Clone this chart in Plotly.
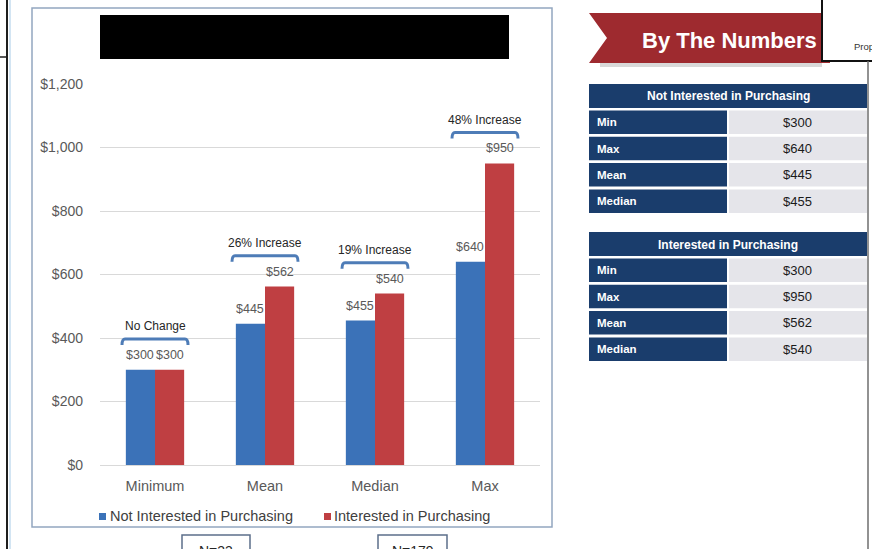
import plotly.graph_objects as go

# ---- data -------------------------------------------------------------
categories = ["Minimum", "Mean", "Median", "Max"]
not_interested = [300, 445, 455, 640]
interested = [300, 562, 540, 950]
series_names = ["Not Interested in Purchasing", "Interested in Purchasing"]
y_ticks = [0, 200, 400, 600, 800, 1000, 1200]

table_rows = ["Min", "Max", "Mean", "Median"]
row_to_category = {"Min": "Minimum", "Max": "Max", "Mean": "Mean", "Median": "Median"}
banner_title = "By The Numbers"
sample_sizes = ["N=33", "N=179"]

# ---- style ------------------------------------------------------------
FONT = "Liberation Sans, Arial, sans-serif"
BLUE = "#3B72B8"
RED = "#BF3F42"
NAVY = "#1A3D6C"
CELL = "#E5E5EA"
BANNER = "#9E2A2F"
GREY_TXT = "#595959"

W, H = 872, 549
PL, PR, PT, PB = 100, 540, 84, 465   # plot area in pixels
YMAX = 1200


def px(x):
    return (x - PL) / (PR - PL)


def py(y):
    return (PB - y) / (PB - PT)


def note(x, y, text, size, color, xanchor="center", yanchor="middle", bold=False, **kw):
    d = dict(x=x, y=y, xref="paper", yref="paper",
             text=f"<b>{text}</b>" if bold else text, showarrow=False,
             xanchor=xanchor, yanchor=yanchor,
             font=dict(family=FONT, size=size, color=color))
    d.update(kw)
    return d


fig = go.Figure()
for name, vals, col in [(series_names[0], not_interested, BLUE),
                        (series_names[1], interested, RED)]:
    fig.add_trace(go.Bar(x=categories, y=vals, name=name, marker_color=col,
                         marker_line_width=0, showlegend=False))

shapes = []
ann = []

# value labels above bars
bar_half = (PR - PL) / len(categories) * (1 - 0.47) / 4
for vals, sh in [(not_interested, -bar_half), (interested, bar_half)]:
    for c, v in zip(categories, vals):
        ann.append(dict(x=c, y=v, xref="x", yref="y", text=f"${v:,}",
                        showarrow=False, xshift=sh, xanchor="center",
                        yanchor="bottom", yshift=6,
                        font=dict(family=FONT, size=12.5, color=GREY_TXT)))

# change brackets above each group
n = len(categories)
half = 0.3 / n
hook = 6 / (PB - PT)
rad = 3 / (PR - PL)
for i, (a, b) in enumerate(zip(not_interested, interested)):
    cx = (i + 0.5) / n
    yb = (max(a, b) + 97) / YMAX
    x0, x1 = cx - half, cx + half
    path = (f"M {x0},{yb - hook} Q {x0},{yb} {x0 + rad},{yb} "
            f"L {x1 - rad},{yb} Q {x1},{yb} {x1},{yb - hook}")
    shapes.append(dict(type="path", xref="paper", yref="paper", path=path,
                       line=dict(color="#4E7CB7", width=3)))
    pct = round((b - a) / a * 100)
    label = "No Change" if pct == 0 else f"{pct}% Increase"
    ann.append(note(cx, yb, label, 12, "#262626", yanchor="bottom", yshift=4))

# chart frame and redacted title block
shapes.append(dict(type="rect", xref="paper", yref="paper",
                   x0=px(32), x1=px(552), y0=py(527), y1=py(8),
                   line=dict(color="#93A6C0", width=1.5)))
shapes.append(dict(type="rect", xref="paper", yref="paper",
                   x0=px(100), x1=px(509), y0=py(59), y1=py(15),
                   fillcolor="black", line=dict(width=0)))

# manual legend
for (sx, tx), name, col in zip([(99, 108), (324, 332)], series_names, [BLUE, RED]):
    shapes.append(dict(type="rect", xref="paper", yref="paper",
                       x0=px(sx), x1=px(sx + 7), y0=py(520), y1=py(513),
                       fillcolor=col, line=dict(width=0)))
    ann.append(note(px(tx), py(516), name, 14.5, "#404040", xanchor="left"))

# sample size boxes below the frame
for (bx0, bx1), lab in zip([(182, 250), (378, 447)], sample_sizes):
    shapes.append(dict(type="rect", xref="paper", yref="paper",
                       x0=px(bx0), x1=px(bx1), y0=py(560), y1=py(535),
                       line=dict(color="#5C6F8A", width=1.5)))
    ann.append(note(px((bx0 + bx1) / 2), py(541), lab, 14, "#262626", yanchor="top"))

# page edge lines on the left
shapes.append(dict(type="line", xref="paper", yref="paper", x0=px(7), x1=px(7),
                   y0=py(0), y1=py(H), line=dict(color="#1E1E1E", width=2)))
shapes.append(dict(type="line", xref="paper", yref="paper", x0=px(10), x1=px(10),
                   y0=py(0), y1=py(H), line=dict(color="#C5DCEF", width=1.5)))
shapes.append(dict(type="line", xref="paper", yref="paper", x0=px(-2), x1=px(7),
                   y0=py(57), y1=py(57), line=dict(color="#1E1E1E", width=1.5)))

# banner ribbon
shapes.append(dict(type="rect", xref="paper", yref="paper",
                   x0=px(600), x1=px(822), y0=py(67), y1=py(62),
                   fillcolor="#CFCFCF", line=dict(width=0), opacity=0.8))
rib = (f"M {px(589)},{py(13)} L {px(830)},{py(13)} L {px(830)},{py(63)} "
       f"L {px(589)},{py(63)} L {px(607)},{py(38)} Z")
shapes.append(dict(type="path", xref="paper", yref="paper", path=rib,
                   fillcolor=BANNER, line=dict(width=0)))
ann.append(note(px(729), py(40), banner_title, 22, "white", bold=True))

# overlapping page corner at the top right
shapes.append(dict(type="rect", xref="paper", yref="paper",
                   x0=px(822), x1=px(890), y0=py(61), y1=py(-5),
                   fillcolor="white", line=dict(color="#111111", width=2)))
shapes.append(dict(type="line", xref="paper", yref="paper", x0=px(868), x1=px(868),
                   y0=py(61), y1=py(H + 2), line=dict(color="#6E6E6E", width=1.5)))
ann.append(note(px(852), py(46), "Prop", 9.5, "#333333", xanchor="left"))


# summary tables
def table(top, title, vals):
    lookup = dict(zip(categories, vals))
    shapes.append(dict(type="rect", xref="paper", yref="paper",
                       x0=px(589), x1=px(867), y0=py(top + 24), y1=py(top),
                       fillcolor=NAVY, line=dict(width=0)))
    ann.append(note(px(728), py(top + 12.5), title, 12, "white", bold=True))
    for k, r in enumerate(table_rows):
        y0 = top + 26.5 + k * 26.3
        y1 = y0 + 23.5
        shapes.append(dict(type="rect", xref="paper", yref="paper",
                           x0=px(589), x1=px(727), y0=py(y1), y1=py(y0),
                           fillcolor=NAVY, line=dict(width=0)))
        shapes.append(dict(type="rect", xref="paper", yref="paper",
                           x0=px(729), x1=px(867), y0=py(y1), y1=py(y0),
                           fillcolor=CELL, line=dict(width=0)))
        ym = py((y0 + y1) / 2)
        ann.append(note(px(595), ym, r, 11.5, "white", xanchor="left", bold=True))
        ann.append(note(px(797), ym, f"${lookup[row_to_category[r]]:,}", 13, "#1A1A1A"))


table(84, series_names[0], not_interested)
table(232, series_names[1], interested)

fig.update_layout(
    width=W, height=H, autosize=False,
    margin=dict(l=PL, r=W - PR, t=PT, b=H - PB, pad=0),
    paper_bgcolor="white", plot_bgcolor="white",
    barmode="group", bargap=0.47, bargroupgap=0,
    showlegend=False,
    shapes=shapes, annotations=ann,
    font=dict(family=FONT),
)
fig.update_xaxes(showgrid=False, showline=False, ticks="", zeroline=False,
                 tickfont=dict(family=FONT, size=14.5, color=GREY_TXT),
                 ticklabelstandoff=10)
fig.update_yaxes(range=[0, YMAX], tickmode="array", tickvals=y_ticks,
                 ticktext=[f"${v:,}" for v in y_ticks],
                 showgrid=True, gridcolor="#D9D9D9", gridwidth=1,
                 zeroline=True, zerolinecolor="#D9D9D9", zerolinewidth=1,
                 showline=False, ticks="",
                 tickfont=dict(family=FONT, size=14, color=GREY_TXT),
                 ticklabelstandoff=16)

fig.write_html("out.html")
